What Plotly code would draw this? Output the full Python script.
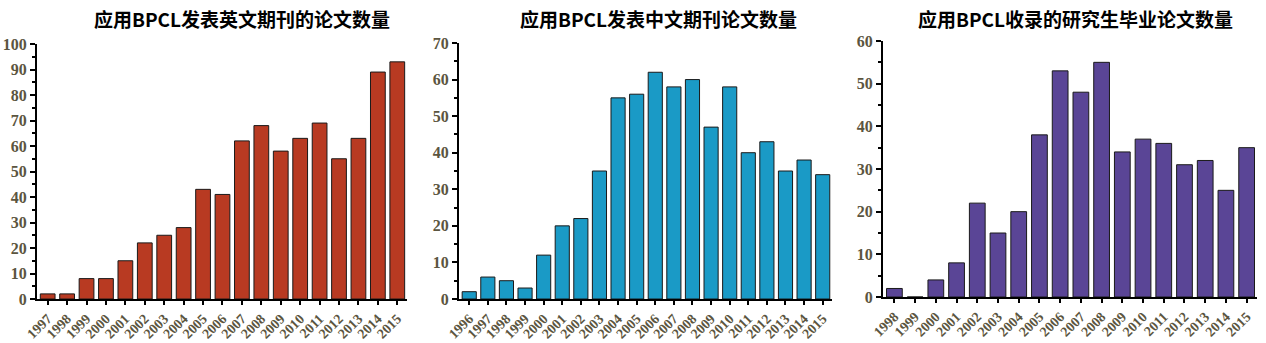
import plotly.graph_objects as go

years1 = [str(y) for y in range(1997, 2016)]
vals1 = [2, 2, 8, 8, 15, 22, 25, 28, 43, 41, 62, 68, 58, 63, 69, 55, 63, 89, 93]
years2 = [str(y) for y in range(1996, 2016)]
vals2 = [2, 6, 5, 3, 12, 20, 22, 35, 55, 56, 62, 58, 60, 47, 58, 40, 43, 35, 38, 34]
years3 = [str(y) for y in range(1998, 2016)]
vals3 = [2, 0, 4, 8, 22, 15, 20, 38, 53, 48, 55, 34, 37, 36, 31, 32, 25, 35]
titles = ["应用BPCL发表英文期刊的论文数量", "应用BPCL发表中文期刊论文数量", "应用BPCL收录的研究生毕业论文数量"]
colors = ["#B83A22", "#1A9AC6", "#5A4596"]
ymax = [100, 70, 60]

W, H = 1266, 343
xdom = [(37, 407), (459, 832), (883, 1257)]
ydom = [(44, 299), (43, 299), (41, 297)]

fig = go.Figure()
datasets = [(years1, vals1), (years2, vals2), (years3, vals3)]
layout = {}
tickcolor = "#5B5540"
for i, (yrs, vals) in enumerate(datasets):
    n = i + 1
    xa = "x" if n == 1 else f"x{n}"
    ya = "y" if n == 1 else f"y{n}"
    fig.add_trace(go.Bar(x=yrs, y=vals, xaxis=xa, yaxis=ya,
                         marker=dict(color=colors[i], line=dict(color="#1a1a1a", width=1)),
                         width=0.76, showlegend=False))
    x0, x1 = xdom[i]
    yt, yb = ydom[i]
    layout["xaxis" if n == 1 else f"xaxis{n}"] = dict(
        domain=[x0 / W, x1 / W], anchor=ya, type="category", automargin=False,
        range=[-0.55, len(yrs) - 0.5],
        showline=True, linecolor="black", linewidth=2,
        ticks="outside", ticklen=4, tickwidth=1.5, tickcolor="black",
        tickangle=-45, showgrid=False, zeroline=False,
        tickfont=dict(family="Liberation Serif", size=14, color=tickcolor, weight="bold"),
    )
    layout["yaxis" if n == 1 else f"yaxis{n}"] = dict(
        domain=[(H - yb) / H, (H - yt) / H], anchor=xa, automargin=False,
        range=[0, ymax[i]], dtick=10, tick0=0,
        showline=True, linecolor="black", linewidth=2,
        ticks="outside", ticklen=5, tickwidth=1.5, tickcolor="black",
        minor=dict(dtick=5, ticks="outside", ticklen=3, tickwidth=1.5, tickcolor="black"),
        showgrid=False, zeroline=False,
        tickfont=dict(family="Liberation Serif", size=16, color=tickcolor, weight="bold"),
    )

titles_x = [242, 658, 1075]
annotations = []
for i, t in enumerate(titles):
    annotations.append(dict(text=f"<b>{t}</b>", x=titles_x[i] / W, y=(H - 18) / H,
                            xref="paper", yref="paper", showarrow=False,
                            xanchor="center", yanchor="middle",
                            font=dict(family="Noto Sans CJK SC", size=19, color="black")))

fig.update_layout(width=W, height=H, margin=dict(l=0, r=0, t=0, b=0),
                  plot_bgcolor="white", paper_bgcolor="white",
                  bargap=0.24, annotations=annotations, **layout)
fig.write_html("out.html")
